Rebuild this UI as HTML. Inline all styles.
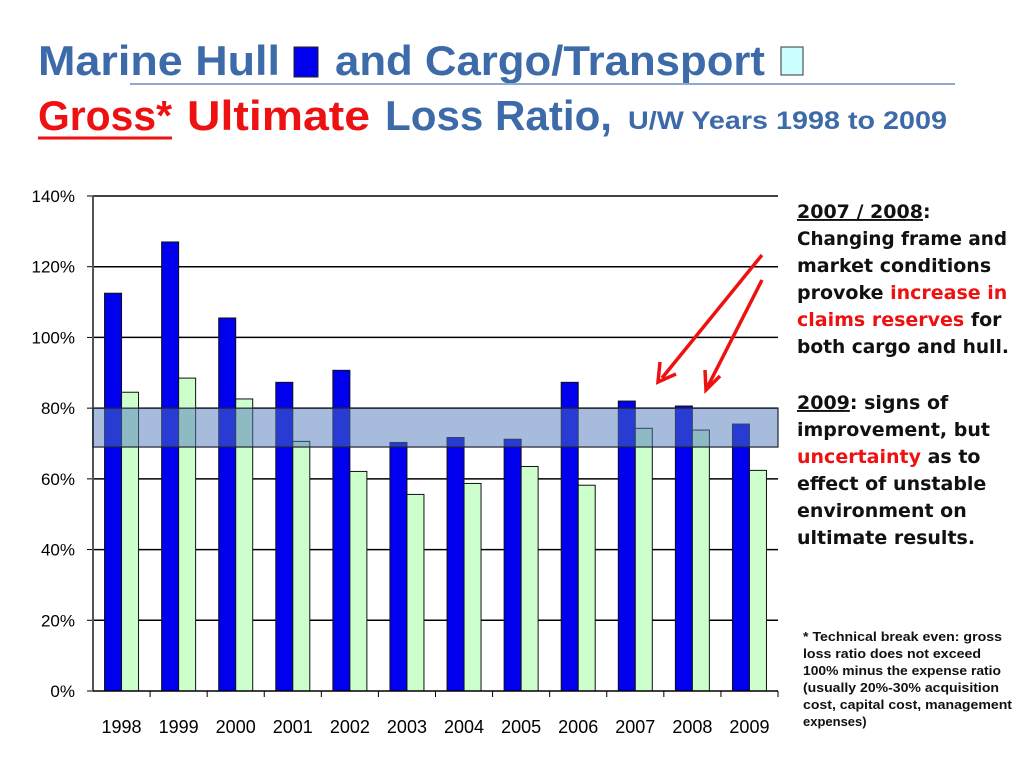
<!DOCTYPE html>
<html><head><meta charset="utf-8"><style>
body{margin:0;background:#fff;}
svg{display:block;font-family:"Liberation Sans",sans-serif;}
</style></head><body>
<svg width="1024" height="768" viewBox="0 0 1024 768">
<g font-weight="bold">
<text x="38" y="75" font-size="42" fill="#3d6aa8" textLength="242" lengthAdjust="spacingAndGlyphs">Marine Hull</text>
<rect x="294" y="47" width="24" height="30" fill="#0000ee" stroke="#222"/>
<text x="335" y="75" font-size="42" fill="#3d6aa8" textLength="430" lengthAdjust="spacingAndGlyphs">and Cargo/Transport</text>
<rect x="781" y="47" width="22" height="28" fill="#ccffff" stroke="#333"/>
<line x1="130" y1="84" x2="955" y2="84" stroke="#8fa8d0" stroke-width="2"/>
<text x="38" y="130" font-size="42" fill="#ee1111" textLength="134" lengthAdjust="spacingAndGlyphs">Gross*</text>
<line x1="38" y1="138" x2="172" y2="138" stroke="#ee1111" stroke-width="3"/>
<text x="187" y="130" font-size="42" fill="#ee1111" textLength="183" lengthAdjust="spacingAndGlyphs">Ultimate</text>
<text x="385" y="130" font-size="42" fill="#3d6aa8" textLength="227" lengthAdjust="spacingAndGlyphs">Loss Ratio,</text>
<text x="628" y="129" font-size="25" fill="#3d6aa8" textLength="319" lengthAdjust="spacingAndGlyphs">U/W Years 1998 to 2009</text>
</g>
<g id="chart"></g>
<g font-family="DejaVu Sans, sans-serif" font-weight="bold" font-size="19" fill="#111">
<text x="797" y="218"><tspan text-decoration="underline">2007 / 2008</tspan>:</text>
<text x="797" y="245" textLength="210" lengthAdjust="spacingAndGlyphs">Changing frame and</text>
<text x="797" y="272">market conditions</text>
<text x="797" y="299">provoke <tspan fill="#ee1111">increase in</tspan></text>
<text x="797" y="326"><tspan fill="#ee1111">claims reserves</tspan> for</text>
<text x="797" y="353" textLength="212" lengthAdjust="spacingAndGlyphs">both cargo and hull.</text>
<text x="797" y="409"><tspan text-decoration="underline">2009</tspan>: signs of</text>
<text x="797" y="436">improvement, but</text>
<text x="797" y="463"><tspan fill="#ee1111">uncertainty</tspan> as to</text>
<text x="797" y="490">effect of unstable</text>
<text x="797" y="517">environment on</text>
<text x="797" y="544">ultimate results.</text>
</g>
<g font-weight="bold" font-size="13" fill="#111">
<text x="803" y="641" textLength="199" lengthAdjust="spacingAndGlyphs">* Technical break even: gross</text>
<text x="803" y="658" textLength="178" lengthAdjust="spacingAndGlyphs">loss ratio does not exceed</text>
<text x="803" y="675" textLength="198" lengthAdjust="spacingAndGlyphs">100% minus the expense ratio</text>
<text x="803" y="692" textLength="196" lengthAdjust="spacingAndGlyphs">(usually 20%-30% acquisition</text>
<text x="803" y="709" textLength="209" lengthAdjust="spacingAndGlyphs">cost, capital cost, management</text>
<text x="803" y="726">expenses)</text>
</g>
<g stroke="#ee1111" stroke-width="3.5" fill="none">
<line x1="762" y1="255" x2="662" y2="378"/>
<polyline points="660,362 658,382 676,374"/>
<line x1="762" y1="280" x2="708" y2="386"/>
<polyline points="705,370 706,390 720,376"/>
</g>
</svg>
<script>
const years=["1998","1999","2000","2001","2002","2003","2004","2005","2006","2007","2008","2009"];
const hull=[112.5,127,105.5,87.3,90.7,70.3,71.7,71.2,87.3,82,80.6,75.5];
const cargo=[84.5,88.5,82.6,70.6,62.1,55.6,58.7,63.5,58.2,74.3,73.8,62.4];
const yTicks=[0,20,40,60,80,100,120,140];
const band=[69,80];
const NS="http://www.w3.org/2000/svg";
const g=document.getElementById('chart');
const X0=93,X1=778,Y0=691,Y140=196;
const y=v=>Y0-(v/140)*(Y0-Y140);
const cw=(X1-X0)/years.length;
const cx=i=>X0+cw*(i+0.5);
function mk(t,a){const e=document.createElementNS(NS,t);for(const k in a)e.setAttribute(k,a[k]);g.appendChild(e);return e;}
yTicks.forEach(v=>{
 if(v>0){const l=mk('line',{x1:X0,x2:X1,y1:y(v),y2:y(v),stroke:'#000','stroke-width':1.5});
 
 }
 const tk=mk('line',{x1:X0-6,x2:X0,y1:y(v),y2:y(v),stroke:'#000'});
 
 
 const t=mk('text',{x:75,y:y(v)+6,'text-anchor':'end','font-size':17,fill:'#000'});
 t.textContent=v+'%';
 
 
});
const ax=mk('line',{x1:X0,x2:X0,y1:Y140,y2:Y0,stroke:'#555','stroke-width':2});


const bw=17;
years.forEach((yr,i)=>{
 const c=cx(i);
 const h=mk('rect',{x:c-bw,y:y(hull[i]),width:bw,height:Y0-y(hull[i]),fill:'#0000ee',stroke:'#111','stroke-width':1});
 
 
 const cg=mk('rect',{x:c,y:y(cargo[i]),width:bw,height:Y0-y(cargo[i]),fill:'#ccffcc',stroke:'#111','stroke-width':1});
 
 
 const t=mk('text',{x:c,y:733,'text-anchor':'middle','font-size':18,fill:'#000'});
 t.textContent=yr;
 
 
 const tk=mk('line',{x1:X0+cw*(i+1),x2:X0+cw*(i+1),y1:Y0,y2:Y0+6,stroke:'#000'});
 
 
});
const xa=mk('line',{x1:X0,x2:X1,y1:Y0,y2:Y0,stroke:'#000','stroke-width':1.5});


const b=mk('rect',{x:X0,y:y(band[1]),width:X1-X0,height:y(band[0])-y(band[1]),fill:'rgba(79,120,185,0.5)',stroke:'#223','stroke-width':1.2});


</script>
</body></html>
